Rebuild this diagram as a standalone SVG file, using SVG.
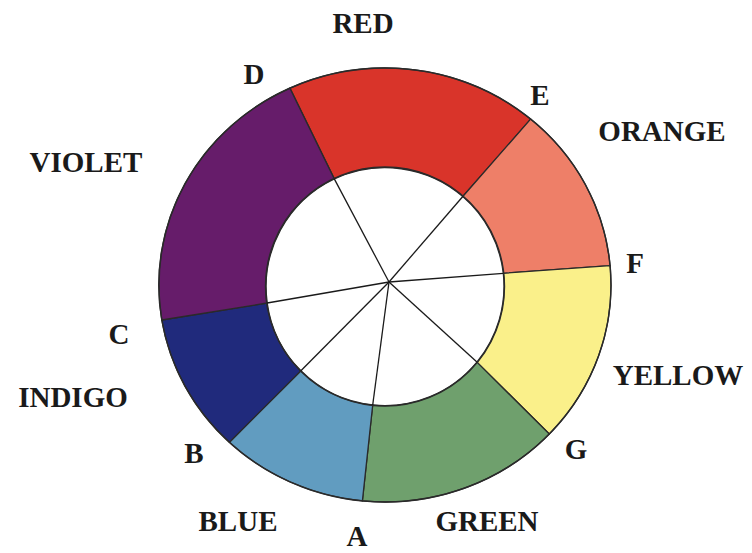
<svg xmlns="http://www.w3.org/2000/svg" width="752" height="553" viewBox="0 0 752 553">
  <style>
    .seg { stroke: #2a2a2a; stroke-width: 1.3; stroke-linejoin: round; }
    .lbl { font-family: "Liberation Serif", "Times New Roman", serif; font-weight: bold; font-size: 29px; fill: #1a1a1a; text-anchor: middle; }
    .spoke { stroke: #1a1a1a; stroke-width: 1.3; fill: none; }
    .rim { fill: none; stroke: #2a2a2a; stroke-width: 1.4; }
  </style>
  <rect x="0" y="0" width="752" height="553" fill="#ffffff"/>

  <g id="red">
    <path class="seg" fill="#d9342a" d="M 334.3,178.9 L 289.9,88.1 A 226 217 0 0 1 530.6,119.1 L 462.8,196.5 A 119.5 119.5 0 0 0 334.3,178.9 Z"/>
    <text class="lbl" x="363" y="33">RED</text>
  </g>
  <g id="orange">
    <path class="seg" fill="#ee7f68" d="M 462.8,196.5 L 530.6,119.1 A 226 217 0 0 1 610.1,265.6 L 503.3,273.3 A 119.5 119.5 0 0 0 462.8,196.5 Z"/>
    <text class="lbl" x="662" y="141">ORANGE</text>
  </g>
  <g id="yellow">
    <path class="seg" fill="#faf08a" d="M 503.3,273.3 L 610.1,265.6 A 226 217 0 0 1 549.3,434.0 L 476.9,362.1 A 119.5 119.5 0 0 0 503.3,273.3 Z"/>
    <text class="lbl" x="678" y="385">YELLOW</text>
  </g>
  <g id="green">
    <path class="seg" fill="#6fa06d" d="M 476.9,362.1 L 549.3,434.0 A 226 217 0 0 1 362.4,500.9 L 372.7,405.0 A 119.5 119.5 0 0 0 476.9,362.1 Z"/>
    <text class="lbl" x="487" y="531">GREEN</text>
  </g>
  <g id="blue">
    <path class="seg" fill="#619cc0" d="M 372.7,405.0 L 362.4,500.9 A 226 217 0 0 1 229.4,442.3 L 300.9,370.8 A 119.5 119.5 0 0 0 372.7,405.0 Z"/>
    <text class="lbl" x="238" y="531">BLUE</text>
  </g>
  <g id="indigo">
    <path class="seg" fill="#202a7c" d="M 300.9,370.8 L 229.4,442.3 A 226 217 0 0 1 161.7,320.0 L 267.2,303.0 A 119.5 119.5 0 0 0 300.9,370.8 Z"/>
    <text class="lbl" x="73" y="407">INDIGO</text>
  </g>
  <g id="violet">
    <path class="seg" fill="#661c6a" d="M 267.2,303.0 L 161.7,320.0 A 226 217 0 0 1 289.9,88.1 L 334.3,178.9 A 119.5 119.5 0 0 0 267.2,303.0 Z"/>
    <text class="lbl" x="86" y="172">VIOLET</text>
  </g>

  <g id="rims">
    <ellipse class="rim" cx="385" cy="285" rx="226" ry="217"/>
    <circle class="rim" cx="385" cy="286.5" r="119.5" fill="#ffffff"/>
  </g>

  <g id="connectors">
    <line class="spoke" x1="389" y1="282" x2="334.3" y2="178.9"/>
    <line class="spoke" x1="389" y1="282" x2="462.8" y2="196.5"/>
    <line class="spoke" x1="389" y1="282" x2="503.3" y2="273.3"/>
    <line class="spoke" x1="389" y1="282" x2="476.9" y2="362.1"/>
    <line class="spoke" x1="389" y1="282" x2="372.7" y2="405.0"/>
    <line class="spoke" x1="389" y1="282" x2="300.9" y2="370.8"/>
    <line class="spoke" x1="389" y1="282" x2="267.2" y2="303.0"/>
  </g>

  <g id="point-D"><text class="lbl" x="254" y="84">D</text></g>
  <g id="point-E"><text class="lbl" x="540" y="105">E</text></g>
  <g id="point-F"><text class="lbl" x="635" y="273">F</text></g>
  <g id="point-G"><text class="lbl" x="576" y="459">G</text></g>
  <g id="point-A"><text class="lbl" x="357" y="546">A</text></g>
  <g id="point-B"><text class="lbl" x="194" y="463">B</text></g>
  <g id="point-C"><text class="lbl" x="119" y="344">C</text></g>
</svg>
